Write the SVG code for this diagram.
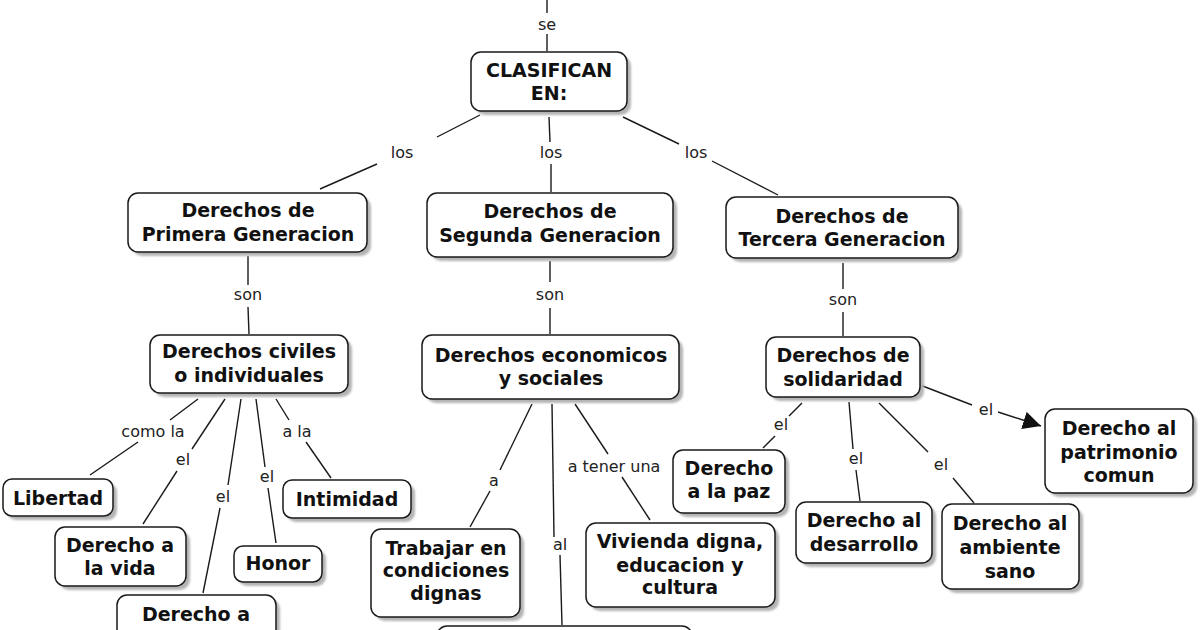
<svg xmlns="http://www.w3.org/2000/svg" width="1200" height="630" viewBox="0 0 1200 630">
<style>
.bg{fill:#ffffff}
.sh{fill:#b4b4b4;filter:url(#blur)}
.box{fill:#ffffff;stroke:#1a1a1a;stroke-width:1.5}
.t{font-family:"DejaVu Sans","Verdana",sans-serif;font-weight:bold;font-size:19px;fill:#111;text-anchor:middle}
.lbl{font-family:"DejaVu Sans","Verdana",sans-serif;font-size:16px;fill:#222;text-anchor:middle}
.ln{stroke:#1a1a1a;stroke-width:1.4;fill:none}
</style>
<defs>
<filter id="blur" x="-10%" y="-10%" width="120%" height="120%"><feGaussianBlur stdDeviation="1.2"/></filter>
<marker id="arr" viewBox="0 0 10 10" refX="10" refY="5" markerWidth="18" markerHeight="18" markerUnits="userSpaceOnUse" orient="auto"><path d="M0,0 L10,5 L0,10 z" fill="#111"/></marker>
</defs>
<rect class="bg" x="0" y="0" width="1200" height="630"/>

<g id="connectors">
<line class="ln" x1="547" y1="0" x2="547" y2="13"/><text class="lbl" x="547" y="30">se</text><line class="ln" x1="547" y1="34" x2="547" y2="51"/>
<line class="ln" x1="480" y1="115" x2="437" y2="137"/><text class="lbl" x="402" y="158">los</text><line class="ln" x1="377" y1="164" x2="320" y2="189"/>
<line class="ln" x1="549" y1="117" x2="550" y2="142"/><text class="lbl" x="551" y="158">los</text><line class="ln" x1="551" y1="164" x2="551" y2="192"/>
<line class="ln" x1="623" y1="117" x2="679" y2="144"/><text class="lbl" x="696" y="158">los</text><line class="ln" x1="712" y1="161" x2="778" y2="195"/>
<line class="ln" x1="248" y1="256" x2="248" y2="285"/><text class="lbl" x="248" y="300">son</text><line class="ln" x1="248" y1="307" x2="249" y2="334"/>
<line class="ln" x1="550" y1="261" x2="550" y2="282"/><text class="lbl" x="550" y="300">son</text><line class="ln" x1="550" y1="308" x2="550" y2="334"/>
<line class="ln" x1="843" y1="263" x2="843" y2="289"/><text class="lbl" x="843" y="305">son</text><line class="ln" x1="843" y1="312" x2="843" y2="336"/>
<line class="ln" x1="198" y1="399" x2="170" y2="420"/><text class="lbl" x="153" y="437">como la</text><line class="ln" x1="138" y1="442" x2="90" y2="475"/>
<line class="ln" x1="225" y1="399" x2="192" y2="449"/><text class="lbl" x="183" y="465">el</text><line class="ln" x1="177" y1="471" x2="143" y2="524"/>
<line class="ln" x1="241" y1="399" x2="228" y2="485"/><text class="lbl" x="223" y="502">el</text><line class="ln" x1="220" y1="508" x2="203" y2="593"/>
<line class="ln" x1="256" y1="399" x2="265" y2="467"/><text class="lbl" x="267" y="482">el</text><line class="ln" x1="268" y1="488" x2="276" y2="543"/>
<line class="ln" x1="276" y1="399" x2="289" y2="420"/><text class="lbl" x="297" y="437">a la</text><line class="ln" x1="306" y1="442" x2="331" y2="478"/>
<line class="ln" x1="532" y1="404" x2="500" y2="470"/><text class="lbl" x="494" y="486">a</text><line class="ln" x1="490" y1="491" x2="470" y2="527"/>
<line class="ln" x1="552" y1="404" x2="554" y2="537"/><text class="lbl" x="560" y="550">al</text><line class="ln" x1="560" y1="555" x2="562" y2="625"/>
<line class="ln" x1="575" y1="404" x2="608" y2="454"/><text class="lbl" x="614" y="472">a tener una</text><line class="ln" x1="622" y1="477" x2="650" y2="520"/>
<line class="ln" x1="802" y1="403" x2="789" y2="416"/><text class="lbl" x="781" y="430">el</text><line class="ln" x1="775" y1="436" x2="763" y2="448"/>
<line class="ln" x1="849" y1="402" x2="853" y2="449"/><text class="lbl" x="856" y="464">el</text><line class="ln" x1="856" y1="470" x2="860" y2="501"/>
<line class="ln" x1="879" y1="403" x2="928" y2="452"/><text class="lbl" x="941" y="470">el</text><line class="ln" x1="953" y1="478" x2="974" y2="503"/>
<line class="ln" x1="920" y1="385" x2="972" y2="405"/><text class="lbl" x="986" y="415">el</text><line class="ln" x1="998" y1="412" x2="1041" y2="426" marker-end="url(#arr)"/>
</g>

<g id="n_clasifican"><rect class="sh" x="475" y="56" width="156" height="59" rx="10"/><rect class="box" x="471" y="52" width="156" height="59" rx="10"/><text class="t" x="549" y="77">CLASIFICAN</text><text class="t" x="549" y="100">EN:</text></g>
<g id="n_primera"><rect class="sh" x="132" y="197" width="239" height="59" rx="10"/><rect class="box" x="128" y="193" width="239" height="59" rx="10"/><text class="t" x="248" y="217">Derechos de</text><text class="t" x="248" y="241">Primera Generacion</text></g>
<g id="n_segunda"><rect class="sh" x="431" y="197" width="246" height="64" rx="10"/><rect class="box" x="427" y="193" width="246" height="64" rx="10"/><text class="t" x="550" y="218">Derechos de</text><text class="t" x="550" y="242">Segunda Generacion</text></g>
<g id="n_tercera"><rect class="sh" x="730" y="201" width="232" height="61" rx="10"/><rect class="box" x="726" y="197" width="232" height="61" rx="10"/><text class="t" x="842" y="223">Derechos de</text><text class="t" x="842" y="246">Tercera Generacion</text></g>
<g id="n_civiles"><rect class="sh" x="154" y="339" width="198" height="58" rx="10"/><rect class="box" x="150" y="335" width="198" height="58" rx="10"/><text class="t" x="249" y="358">Derechos civiles</text><text class="t" x="249" y="382">o individuales</text></g>
<g id="n_economicos"><rect class="sh" x="426" y="339" width="257" height="64" rx="10"/><rect class="box" x="422" y="335" width="257" height="64" rx="10"/><text class="t" x="551" y="362">Derechos economicos</text><text class="t" x="551" y="385">y sociales</text></g>
<g id="n_solidaridad"><rect class="sh" x="770" y="341" width="154" height="60" rx="10"/><rect class="box" x="766" y="337" width="154" height="60" rx="10"/><text class="t" x="843" y="362">Derechos de</text><text class="t" x="843" y="386">solidaridad</text></g>
<g id="n_libertad"><rect class="sh" x="7" y="483" width="110" height="37" rx="9"/><rect class="box" x="3" y="479" width="110" height="37" rx="9"/><text class="t" x="58" y="505">Libertad</text></g>
<g id="n_vida"><rect class="sh" x="59" y="531" width="131" height="59" rx="10"/><rect class="box" x="55" y="527" width="131" height="59" rx="10"/><text class="t" x="120" y="552">Derecho a</text><text class="t" x="120" y="575">la vida</text></g>
<g id="n_derecho_a"><rect class="sh" x="121" y="599" width="159" height="70" rx="10"/><rect class="box" x="117" y="595" width="159" height="70" rx="10"/><text class="t" x="196" y="621">Derecho a</text></g>
<g id="n_honor"><rect class="sh" x="238" y="550" width="88" height="36" rx="9"/><rect class="box" x="234" y="546" width="88" height="36" rx="9"/><text class="t" x="278" y="570">Honor</text></g>
<g id="n_intimidad"><rect class="sh" x="287" y="484" width="128" height="38" rx="9"/><rect class="box" x="283" y="480" width="128" height="38" rx="9"/><text class="t" x="347" y="506">Intimidad</text></g>
<g id="n_trabajar"><rect class="sh" x="375" y="533" width="149" height="88" rx="10"/><rect class="box" x="371" y="529" width="149" height="88" rx="10"/><text class="t" x="446" y="555">Trabajar en</text><text class="t" x="446" y="577">condiciones</text><text class="t" x="446" y="600">dignas</text></g>
<g id="n_bottom"><rect class="sh" x="441" y="630" width="255" height="40" rx="10"/><rect class="box" x="437" y="626" width="255" height="40" rx="10"/></g>
<g id="n_vivienda"><rect class="sh" x="590" y="527" width="189" height="84" rx="10"/><rect class="box" x="586" y="523" width="189" height="84" rx="10"/><text class="t" x="680" y="548">Vivienda digna,</text><text class="t" x="680" y="572">educacion y</text><text class="t" x="680" y="594">cultura</text></g>
<g id="n_paz"><rect class="sh" x="677" y="454" width="112" height="63" rx="10"/><rect class="box" x="673" y="450" width="112" height="63" rx="10"/><text class="t" x="729" y="475">Derecho</text><text class="t" x="729" y="498">a la paz</text></g>
<g id="n_desarrollo"><rect class="sh" x="800" y="506" width="136" height="61" rx="10"/><rect class="box" x="796" y="502" width="136" height="61" rx="10"/><text class="t" x="864" y="527">Derecho al</text><text class="t" x="864" y="551">desarrollo</text></g>
<g id="n_ambiente"><rect class="sh" x="946" y="508" width="137" height="85" rx="10"/><rect class="box" x="942" y="504" width="137" height="85" rx="10"/><text class="t" x="1010" y="530">Derecho al</text><text class="t" x="1010" y="554">ambiente</text><text class="t" x="1010" y="578">sano</text></g>
<g id="n_patrimonio"><rect class="sh" x="1049" y="413" width="148" height="84" rx="10"/><rect class="box" x="1045" y="409" width="148" height="84" rx="10"/><text class="t" x="1119" y="435">Derecho al</text><text class="t" x="1119" y="459">patrimonio</text><text class="t" x="1119" y="482">comun</text></g>
</svg>
